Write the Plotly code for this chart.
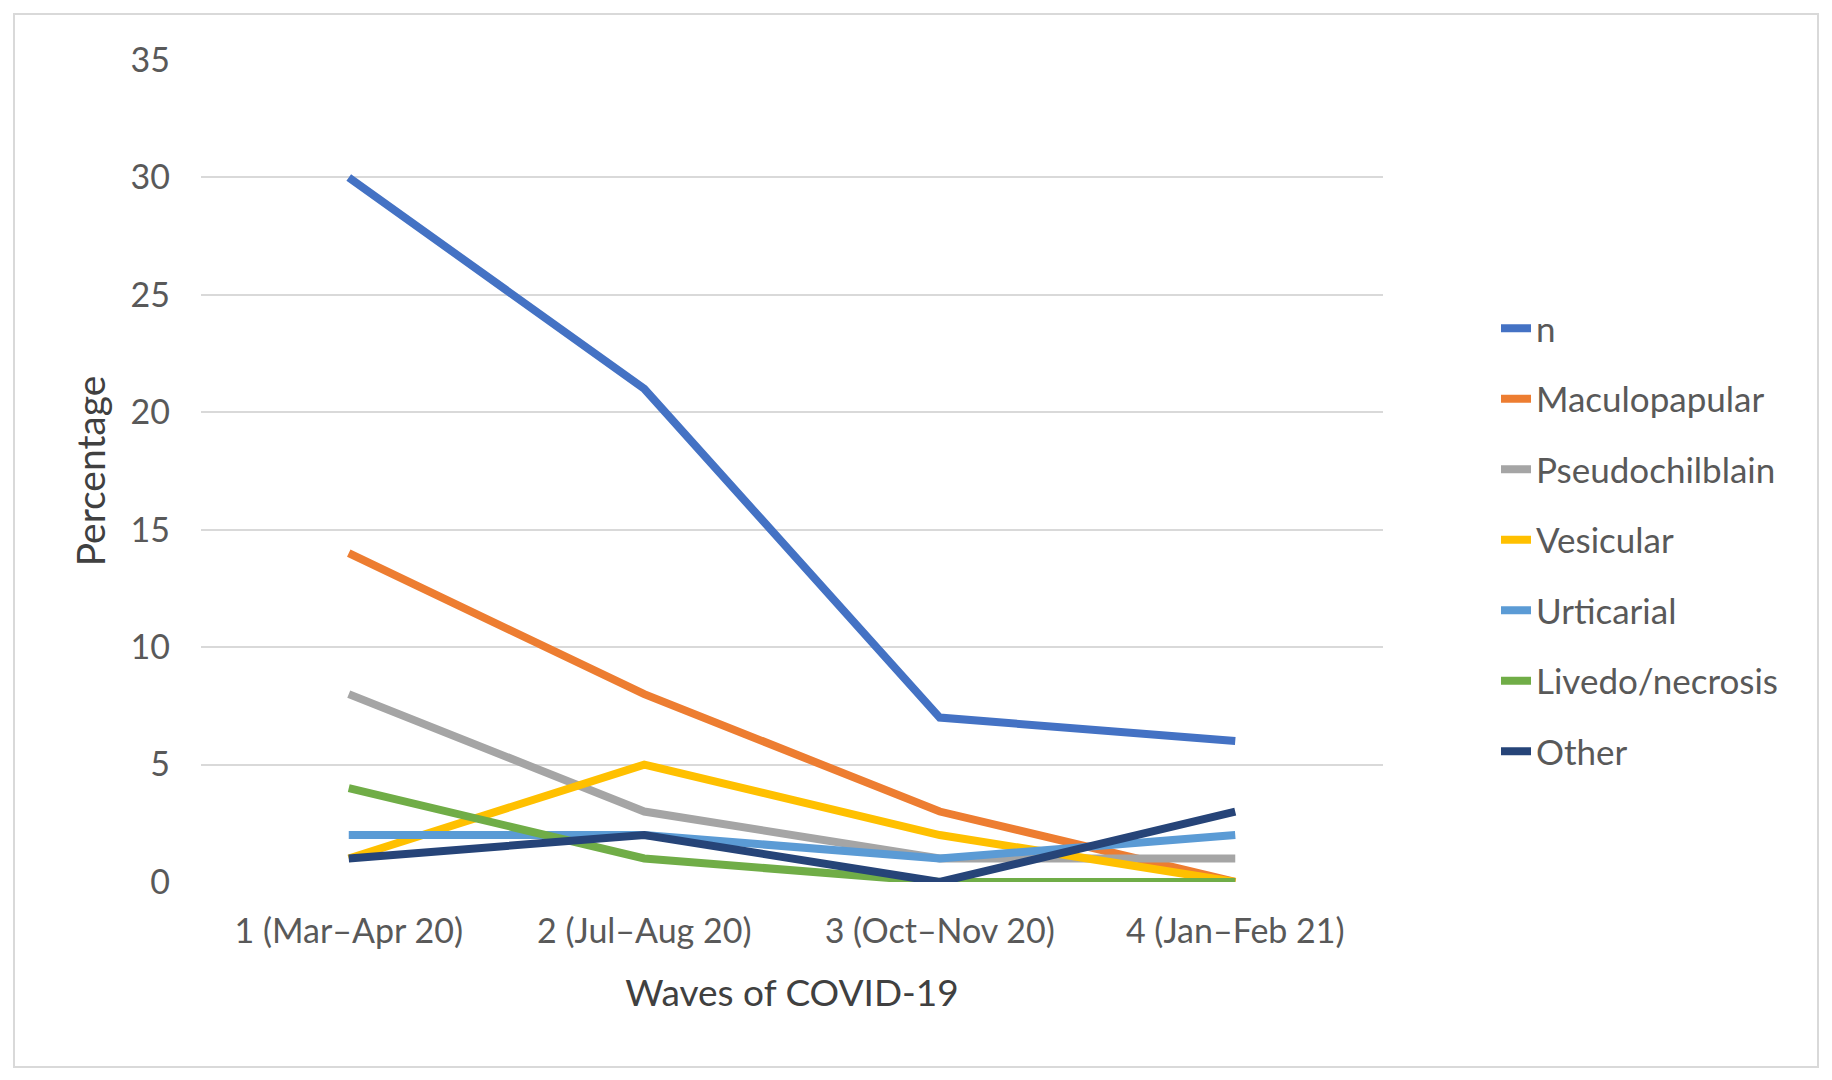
import plotly.graph_objects as go

categories = ["1 (Mar–Apr 20)", "2 (Jul–Aug 20)", "3 (Oct–Nov 20)", "4 (Jan–Feb 21)"]
series_names = ["n", "Maculopapular", "Pseudochilblain", "Vesicular", "Urticarial", "Livedo/necrosis", "Other"]
n_vals = [30, 21, 7, 6]
maculopapular = [14, 8, 3, 0]
pseudochilblain = [8, 3, 1, 1]
vesicular = [1, 5, 2, 0]
urticarial = [2, 2, 1, 2]
livedo = [4, 1, 0, 0]
other = [1, 2, 0, 3]
y_ticks = [0, 5, 10, 15, 20, 25, 30, 35]
colors = ["#4472C4", "#ED7D31", "#A5A5A5", "#FFC000", "#5B9BD5", "#70AD47", "#264478"]

all_series = [n_vals, maculopapular, pseudochilblain, vesicular, urticarial, livedo, other]

W, H = 1832, 1080
ML, MR, MT, MB = 193, 457, 52, 206
pw, ph = W - ML - MR, H - MT - MB

fig = go.Figure()
for name, vals, col in zip(series_names, all_series, colors):
    fig.add_trace(go.Scatter(
        x=categories, y=vals, name=name, mode="lines",
        line=dict(color=col, width=8), legendgroup=name,
    ))

FONT = "Lato, Carlito, Calibri, sans-serif"
fig.update_layout(
    width=W, height=H,
    margin=dict(l=ML, r=MR, t=MT, b=MB, pad=0),
    paper_bgcolor="white", plot_bgcolor="white",
    font=dict(family=FONT, color="#595959", size=34),
    xaxis=dict(
        type="category", range=[-0.5, 3.5], showgrid=False, zeroline=False,
        showline=False, ticks="", tickfont=dict(size=34, color="#595959"),
        ticklabelstandoff=26,
        title=dict(text="Waves of COVID-19", font=dict(size=37, color="#404040"), standoff=31),
    ),
    yaxis=dict(
        range=[0, 35], tickvals=y_ticks, showgrid=True, gridcolor="#D9D9D9", gridwidth=2,
        zeroline=False, showline=False, ticks="", tickfont=dict(size=34, color="#595959"),
        ticklabelstandoff=30,
        title=dict(text="Percentage", font=dict(size=39, color="#404040"), standoff=12),
    ),
    legend=dict(
        x=(1488 - ML) / pw, y=(MT + ph - 291) / ph, xanchor="left", yanchor="top",
        font=dict(size=35, color="#595959"), tracegroupgap=22,
        bgcolor="rgba(0,0,0,0)",
    ),
    showlegend=True,
)

# outer chart border
fig.add_shape(
    type="rect", xref="paper", yref="paper",
    x0=(6 - ML) / pw, x1=(1810 - ML) / pw,
    y0=(MT + ph - 1059) / ph, y1=(MT + ph - 6) / ph,
    line=dict(color="#D9D9D9", width=2), fillcolor="rgba(0,0,0,0)", layer="below",
)

fig.write_html("out.html")
